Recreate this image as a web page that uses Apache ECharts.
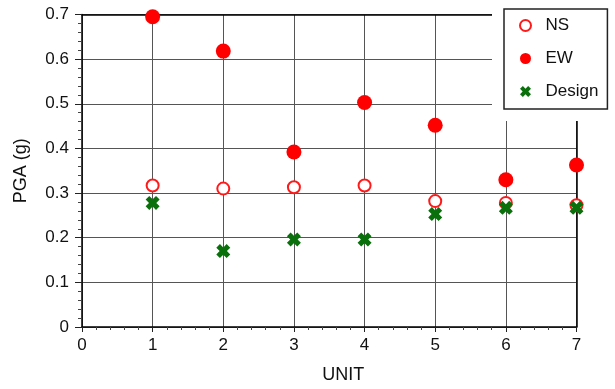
<!DOCTYPE html>
<html>
<head>
<meta charset="utf-8">
<script src="https://cdn.jsdelivr.net/npm/echarts@6/dist/echarts.min.js"></script>
<style>
  html, body { margin: 0; padding: 0; background: #fff; }
  #chart { width: 615px; height: 389px; }
</style>
</head>
<body>
<div id="chart"></div>
<script>
// Peak ground acceleration per unit, two horizontal components plus design value
var units = [1, 2, 3, 4, 5, 6, 7];
var nsPGA = [0.317, 0.310, 0.313, 0.317, 0.282, 0.278, 0.273];
var ewPGA = [0.695, 0.618, 0.392, 0.503, 0.452, 0.330, 0.363];
var designPGA = [0.278, 0.170, 0.196, 0.196, 0.253, 0.267, 0.267];
var xTicks = [0, 1, 2, 3, 4, 5, 6, 7];
var yTicks = [0, 0.1, 0.2, 0.3, 0.4, 0.5, 0.6, 0.7];

function pairs(xs, ys) {
  return xs.map(function (x, i) { return [x, ys[i]]; });
}

// thick "x" marker
var crossPath = 'path://M2.6,0 L5,2.4 L7.4,0 L10,2.6 L7.6,5 L10,7.4 L7.4,10 L5,7.6 L2.6,10 L0,7.4 L2.4,5 L0,2.6 Z';

var FONT = '"Liberation Sans", Arial, Helvetica, sans-serif';
var GRID_LEFT = 82, GRID_RIGHT = 38.5, GRID_TOP = 14.5, GRID_BOTTOM = 55.5;

var chart = echarts.init(document.getElementById('chart'), null, { renderer: 'canvas' });

chart.setOption({
  backgroundColor: '#fff',
  animation: false,
  textStyle: { fontFamily: FONT },
  grid: { left: GRID_LEFT, right: GRID_RIGHT, top: GRID_TOP, bottom: GRID_BOTTOM },
  xAxis: [{
    type: 'value',
    min: xTicks[0],
    max: xTicks[xTicks.length - 1],
    interval: 1,
    name: 'UNIT',
    nameLocation: 'middle',
    nameGap: 39,
    nameTextStyle: { fontSize: 18, color: '#111', fontFamily: FONT, padding: [0, 0, 0, 28] },
    axisLine: { show: true, onZero: false, lineStyle: { color: '#000', width: 1.5 } },
    axisTick: { show: true, inside: false, length: 5, lineStyle: { color: '#222', width: 1 } },
    minorTick: { show: true, splitNumber: 5, length: 3, lineStyle: { color: '#444', width: 1 } },
    axisLabel: { fontSize: 17, color: '#111', margin: 10, fontFamily: FONT },
    splitLine: { show: true, lineStyle: { color: '#555', width: 1 } }
  }, {
    type: 'value',
    position: 'top',
    min: xTicks[0],
    max: xTicks[xTicks.length - 1],
    interval: 1,
    axisLine: { show: true, onZero: false, lineStyle: { color: '#000', width: 1.5 } },
    axisTick: { show: false },
    axisLabel: { show: false },
    splitLine: { show: false }
  }],
  yAxis: [{
    type: 'value',
    min: yTicks[0],
    max: yTicks[yTicks.length - 1],
    interval: 0.1,
    name: 'PGA (g)',
    nameLocation: 'middle',
    nameGap: 52,
    nameTextStyle: { fontSize: 18, color: '#111', fontFamily: FONT },
    axisLine: { show: true, onZero: false, lineStyle: { color: '#000', width: 1.5 } },
    axisTick: { show: true, inside: false, length: 7, lineStyle: { color: '#222', width: 1 } },
    minorTick: { show: true, splitNumber: 5, length: 4, lineStyle: { color: '#444', width: 1 } },
    axisLabel: {
      fontSize: 17, color: '#111', margin: 13, fontFamily: FONT,
      formatter: function (v) { return String(Math.round(v * 10) / 10); }
    },
    splitLine: { show: true, lineStyle: { color: '#555', width: 1 } }
  }, {
    type: 'value',
    position: 'right',
    min: yTicks[0],
    max: yTicks[yTicks.length - 1],
    interval: 0.1,
    axisLine: { show: true, onZero: false, lineStyle: { color: '#000', width: 1.5 } },
    axisTick: { show: false },
    axisLabel: { show: false },
    splitLine: { show: false }
  }],
  legend: {
    orient: 'vertical',
    left: 504,
    top: 9,
    z: 100,
    backgroundColor: '#fff',
    borderColor: '#222',
    borderWidth: 1.5,
    borderRadius: 0,
    padding: [8, 9, 9, 15],
    itemWidth: 30,
    itemHeight: 11,
    itemGap: 16,
    selectedMode: false,
    textStyle: { fontSize: 17, color: '#111', fontFamily: FONT },
    data: ['NS', 'EW', 'Design']
  },
  graphic: [{
    // clears the grid behind the legend box
    type: 'rect',
    z: 50,
    silent: true,
    shape: { x: 492, y: 0, width: 123, height: 121 },
    style: { fill: '#fff' }
  }],
  series: [{
    name: 'NS',
    type: 'scatter',
    data: pairs(units, nsPGA),
    symbol: 'emptyCircle',
    symbolSize: 12,
    z: 3,
    itemStyle: { color: '#ff1a1a', borderColor: '#ff1a1a', borderWidth: 1.5, opacity: 1 }
  }, {
    name: 'EW',
    type: 'scatter',
    data: pairs(units, ewPGA),
    symbol: 'circle',
    symbolSize: 15,
    z: 4,
    itemStyle: { color: '#ff0000', opacity: 1 }
  }, {
    name: 'Design',
    type: 'scatter',
    data: pairs(units, designPGA),
    symbol: crossPath,
    symbolSize: 14,
    z: 5,
    itemStyle: { color: '#0a700c', opacity: 1 }
  }]
});
</script>
</body>
</html>
